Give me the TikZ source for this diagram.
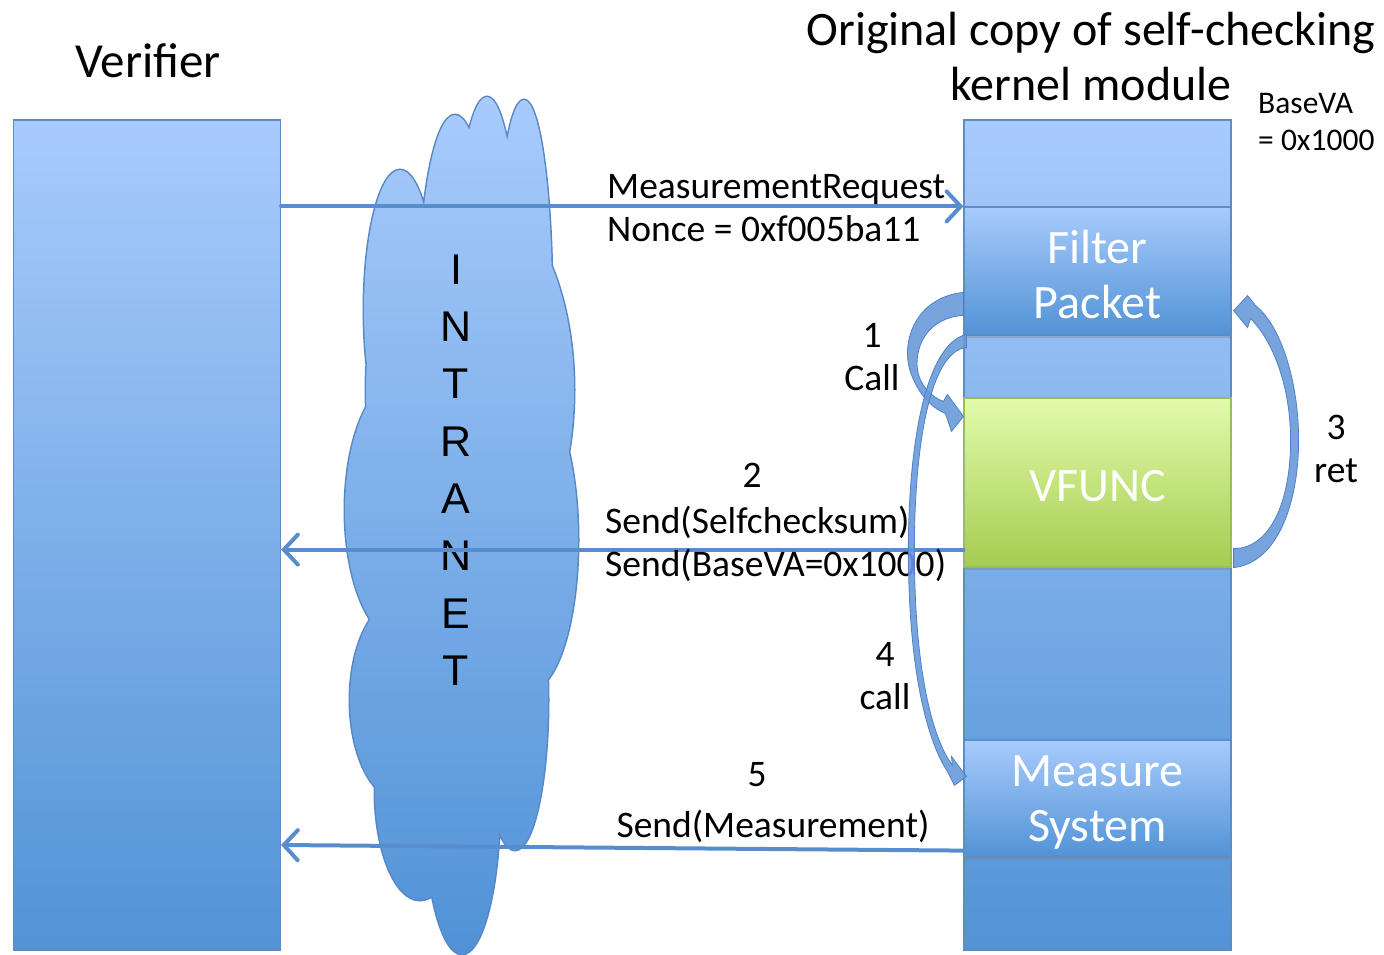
\documentclass[tikz,border=0pt]{standalone}
\usepackage{fontspec}
\setmainfont{Carlito}
\newfontfamily\netfont{Liberation Sans}
\usetikzlibrary{arrows.meta,shadows,calc}

\definecolor{boxtop}{RGB}{168,203,252}
\definecolor{boxbot}{RGB}{82,147,214}
\definecolor{boxline}{RGB}{96,140,196}
\definecolor{greentop}{RGB}{226,251,171}
\definecolor{greenbot}{RGB}{166,204,80}
\definecolor{greenline}{RGB}{150,190,90}
\definecolor{linkblue}{RGB}{88,141,205}
\definecolor{curveblue}{RGB}{104,154,216}
\definecolor{curveedge}{RGB}{78,128,198}
\definecolor{cloudtop}{RGB}{168,203,252}
\definecolor{cloudbot}{RGB}{80,146,214}
\definecolor{cloudline}{RGB}{88,136,196}

\tikzset{
  column/.style={rectangle, draw=boxline, line width=1.2pt,
    top color=boxtop, bottom color=boxbot, minimum width=267pt, inner sep=0pt},
  block/.style={column, drop shadow={opacity=0.35, shadow xshift=0pt, shadow yshift=-3pt}},
  greenblock/.style={block, draw=greenline, top color=greentop, bottom color=greenbot},
  blocktext/.style={text=white, align=center, inner sep=0pt, font=\fontsize{48}{55}\selectfont},
  link/.style={draw=linkblue, line width=4pt, line cap=round,
    -{Straight Barb[length=14pt, width=30pt, line cap=round]}},
  lbl/.style={inner sep=0pt, font=\fontsize{37.5}{43}\selectfont},
  curvedarrow/.style={fill=curveblue, draw=curveedge, line width=0.8pt, fill opacity=0.9},
}

\newcommand\intranetlobes{%
  (400,310) ellipse [x radius=36pt, y radius=140pt]
  (455,300) ellipse [x radius=36pt, y radius=185pt]
  (487,292) ellipse [x radius=32pt, y radius=195pt]
  (524,300) ellipse [x radius=28pt, y radius=200pt]
  (470,390) ellipse [x radius=104pt, y radius=200pt]
  (400,510) ellipse [x radius=55pt, y radius=130pt]
  (530,540) ellipse [x radius=48pt, y radius=150pt]
  (400,700) ellipse [x radius=50pt, y radius=100pt]
  (420,790) ellipse [x radius=45pt, y radius=110pt]
  (462,800) ellipse [x radius=38pt, y radius=154pt]
  (515,700) ellipse [x radius=33pt, y radius=150pt]
  (460,620) ellipse [x radius=80pt, y radius=200pt]}

\begin{document}
\begin{tikzpicture}[x=1pt, y=-1pt]
\useasboundingbox (0,0) rectangle (1384,954);

% headings
\node[font=\fontsize{49}{55}\selectfont] (vtitle) at (148,61) {Verifier};
\node[align=center, font=\fontsize{48}{55}\selectfont] (mtitle) at (1091,57)
  {Original copy of self-checking\\kernel module};
\node[anchor=west, align=left, inner sep=0pt, font=\fontsize{31.5}{37}\selectfont] (base) at (1258,122)
  {BaseVA\\= 0x1000};

% the two columns
\node[column, minimum height=830pt] (verifier) at (147,535) {};
\node[column, minimum height=830pt] (module) at (1097.5,535) {};

% functions inside the module
\node[block, minimum height=128pt] (filter) at (1097.5,271) {};
\node[greenblock, minimum height=169pt] (vfunc) at (1097.5,482.5) {};
\node[block, minimum height=117pt] (measure) at (1097.5,798.5) {};
\node[blocktext] (filtertext) at ([yshift=-4pt]filter.center) {Filter\\Packet};
\node[blocktext] (vfunctext) at ([yshift=-4pt]vfunc.center) {VFUNC};
\node[blocktext] (measuretext) at ([yshift=-4pt]measure.center) {Measure\\System};

% network cloud
\draw[cloudline, line width=3pt] \intranetlobes;
\shade[top color=cloudtop, bottom color=cloudbot] \intranetlobes;
\node[align=center, font=\netfont\fontsize{43}{57.3}\selectfont] (net) at (456,470)
  {I\\N\\T\\R\\A\\N\\E\\T};

% messages between verifier and module
\draw[link] (verifier.east |- filter.north) -- (filter.north west);
\coordinate (s2) at ([yshift=18pt]vfunc.south west);
\draw[link] (s2) -- (s2 -| verifier.east);
\coordinate (s5) at ([yshift=7pt]measure.south west);
\coordinate (e5) at (281,845);
\draw[link] (s5) -- (e5);

\node[lbl, anchor=west, align=left] (req) at (607,208.5)
  {MeasurementRequest\\Nonce = 0xf005ba11};
\node[lbl] (n2) at (752,475) {2};
\node[lbl, anchor=west, align=left] (send2) at (605,543.5)
  {Send(Selfchecksum)\\Send(BaseVA=0x1000)};
\node[lbl] (n5) at (757,775) {5};
\node[lbl] (send5) at (773,826) {Send(Measurement)};

% 1: Filter Packet calls VFUNC
\begin{scope}[shift={(vfunc.north west)}]
\path[curvedarrow] (0,-105) .. controls (-49,-100) and (-64,-53) .. (-52,-23)
  .. controls (-44,-1) and (-29,12) .. (-18,16) -- (-12,34) -- (0,19) -- (-16,-3) -- (-20,4)
  .. controls (-32,0) and (-44,-13) .. (-46,-28)
  .. controls (-49,-53) and (-34,-80) .. (0,-82) -- cycle;
\end{scope}
% 3: VFUNC returns to Filter Packet
\begin{scope}[shift={(vfunc.south east)}]
\path[curvedarrow] (2,0) .. controls (47,-5) and (67,-67) .. (67,-127)
  .. controls (67,-187) and (49,-242) .. (24,-262) -- (16,-272) -- (2,-257) -- (16,-240) -- (19,-249)
  .. controls (41,-227) and (59,-182) .. (59,-127)
  .. controls (59,-67) and (39,-19) .. (2,-19) -- cycle;
\end{scope}
% 4: Filter Packet calls Measure System
\begin{scope}[shift={(measure.north west)}]
\path[curvedarrow] (3,-405) .. controls (-39,-395) and (-56,-290) .. (-55,-180)
  .. controls (-54,-60) and (-34,5) .. (-16,32) -- (-9,46) -- (3,37) -- (-12,17) -- (-11,26)
  .. controls (-29,2) and (-48,-60) .. (-49,-180)
  .. controls (-50,-290) and (-34,-388) .. (3,-392) -- cycle;
\end{scope}

\node[lbl, align=center] (l1) at (872,357.5) {1\\Call};
\node[lbl, align=center] (l3) at (1336,448.5) {3\\ret};
\node[lbl, align=center] (l4) at (885,676) {4\\call};
\end{tikzpicture}
\end{document}
